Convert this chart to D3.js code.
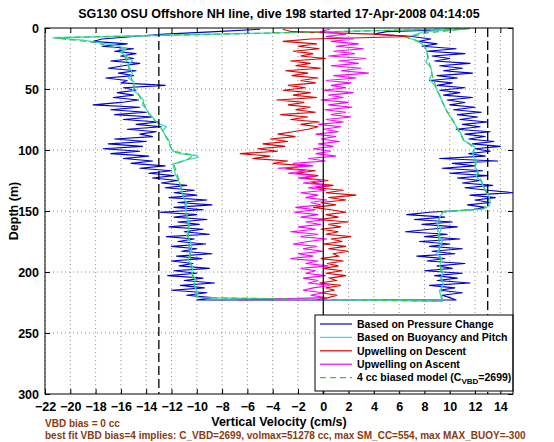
<!DOCTYPE html>
<html><head><meta charset="utf-8">
<script src="https://cdn.jsdelivr.net/npm/d3@7"></script>
<style>
body{margin:0;background:#fff}
text{font-family:"Liberation Sans",Arial,Helvetica,sans-serif;font-weight:bold}
</style>
</head><body>
<svg id="chart" width="554" height="442"></svg>
<script>
// ---------- data ----------
const titleText = "SG130 OSU Offshore NH line, dive 198 started 17-Apr-2008 04:14:05";
const xLabelText = "Vertical Velocity (cm/s)";
const yLabelText = "Depth (m)";
const noteLine1 = "VBD bias = 0 cc";
const noteLine2 = "best fit VBD bias=4 implies: C_VBD=2699, volmax=51278 cc, max SM_CC=554, max MAX_BUOY=-300";
const xTickValues = [-22,-20,-18,-16,-14,-12,-10,-8,-6,-4,-2,0,2,4,6,8,10,12,14];
const yTickValues = [0,50,100,150,200,250,300];
const biasLines = [-13, 13];
const legendLabels = ["Based on Pressure Change","Based on Buoyancy and Pitch","Upwelling on Descent","Upwelling on Ascent","4 cc biased model (C"];

// sampled depth grid (m) for the noisy series: 1,3,5,...,223
const sampleDepths = [1,3,5,7,9,11,13,15,17,19,21,23,25,27,29,31,33,35,37,39,41,43,45,47,49,51,53,55,57,59,
61,63,65,67,69,71,73,75,77,79,81,83,85,87,89,91,93,95,97,99,101,103,105,107,109,111,113,115,117,119,
121,123,125,127,129,131,133,135,137,139,141,143,145,147,149,151,153,155,157,159,161,163,165,167,169,171,173,175,177,179,
181,183,185,187,189,191,193,195,197,199,201,203,205,207,209,211,213,215,217,219,221,223];

// Based on pressure change, descent (cm/s)
const pressureDescent = [-5,-8.5,-12.5,-15,-17.5,-18.2,-15.5,-17.5,-15,-16.5,
-14.8,-16,-15,-16.8,-14.5,-15.8,-17,-14.8,-16.2,-15,
-17.2,-15.5,-16,-12.5,-15.8,-14.8,-16.3,-15,-16.6,-14.6,
-16,-18.2,-14.5,-16.8,-14,-16.5,-13.5,-15.8,-13,-14.8,
-12.8,-15.5,-13.2,-14.5,-13.5,-16.5,-14,-17,-14.3,-17.4,
-14.5,-16.8,-13.8,-15.8,-13.5,-15.2,-12.5,-14.5,-12,-13.8,
-11.8,-13.5,-11.5,-12.8,-10.8,-12.5,-10.2,-11.8,-10,-12.2,
-9.2,-11.5,-8.8,-11.8,-9.5,-12.9,-10,-11.8,-9.2,-11.5,
-9.8,-12.2,-9.5,-11,-9,-12.4,-10.2,-11.5,-9.3,-12,
-10,-11.2,-8.8,-11.6,-9.6,-12,-10.3,-11.4,-9,-11.8,
-10,-12.3,-9.5,-11,-8.6,-11.3,-9.4,-12,-9.2,-10.8,
-8.8,-10];
// Based on pressure change, ascent (cm/s), listed top to bottom
const pressureAscent = [11,5,4,7,8.5,7.5,9,7.8,10.5,8.2,
11.2,8.6,10,8.8,11.6,9.2,11,9.5,11.8,9,
10.6,8.4,10.2,9,11.2,9.2,10.8,9.5,11.8,9.8,
11.2,10,12,10.3,12.5,10.6,12.2,10.8,13,11,
12.4,10.5,13.2,11.2,12.8,11.5,13.5,11.8,14,12,
13.2,11.5,12.8,9.2,13.8,10.2,12,9.4,12.6,10,
13,10.6,12.4,11,13.4,11.2,13,15,11.6,13.6,
12,13.2,11.4,12.8,11.8,8.4,6.6,9.6,7.2,10.2,
7.8,10.6,8.4,6.5,9.8,8,10.8,7.6,10,8.4,
11,8.6,10.4,7.4,9.6,8.2,11.2,9,10.2,8,
11,8.8,10.6,9,11.6,8.4,10.4,9.2,11,9.4,
10,10.5];
// Upwelling on descent (cm/s)
const upwellingDescent = [-3.2,-2.5,4,7,-1,-3.2,-0.5,-2,-0.3,-2.4,
-0.8,-1.8,0.2,-2.6,-1,-2.2,-0.2,-3,-1.2,-2.5,
-0.4,-1.8,-0.6,-2.8,-1.4,-3.2,-1,-2.4,-0.5,-3.7,
-1.5,-2.8,-1,-2.2,-0.6,-3.4,-1.2,-2.6,-0.3,-1.8,
-0.4,-1.2,-2.4,-3.6,-2.2,-4.2,-2.8,-4.8,-3,-5.2,
-3.6,-6.6,-4.2,-5.6,-2.8,-4,-1.2,-3,-0.6,-2.2,
-0.4,-1.6,0.4,-1,0.8,-0.6,1.6,0.2,2.6,0.4,
1.8,-0.2,1,-0.8,0.6,1.8,0.2,1.2,-0.4,2,
0.4,1.4,-0.2,1.2,0.2,2.2,0.6,1.5,0,1.8,
0.4,2,0.8,1.2,-0.2,1.6,0.3,1.2,0,1.5,
0.2,1.8,0.5,1,-0.3,1.4,0.2,0.9,-0.2,1.1,
0.4,-0.5];
// Upwelling on ascent (cm/s)
const upwellingAscent = [0.5,-0.3,1.8,0.2,2.4,0.6,2.8,1,3.2,0.8,
2.5,0.4,3.4,1.2,2.8,0.6,3,1.4,3.6,0.8,
2.6,0.2,2.2,0.6,1.8,0,2.4,0.4,1.6,-0.2,
2,0.4,2.3,0.1,1.8,0.6,2.2,0.2,1.6,-0.4,
1.4,0,1.2,-0.6,1,-0.2,1.3,-0.4,0.8,-0.8,
0.6,-0.6,1,-1.2,0.2,-2.4,-0.8,-3.6,-1.4,-2.8,
-0.6,-2,-0.2,-1.6,0.4,-1.2,0.2,-1.8,-0.4,-1.4,
0.3,-1,-0.2,-2.2,-0.6,-2.3,-0.4,-1.8,0.2,-1.4,
-0.2,-2,-0.6,-2.6,-0.4,-1.8,0.3,-1.2,-2.4,-0.5,
-1.6,0,-2,-0.8,-2.6,-0.4,-1.4,0.4,-1.8,-0.6,
-1.4,0.2,-1.6,-0.4,-1.2,0.5,-0.8,-1.6,0,-1,
0.2,-6.8];

// Based on buoyancy and pitch
const buoyDescentDepth = [0.5,8,10,14.5,17,20,24,27,30,34,37.7,41,44,48.6,51,54,57,59.6,63,66,
70,73,76,78.7,81,84,88,92,97,101,103,104.5,106,108,111.5,115,119.7,124,128,133,
138.8,144,149.7,156,163.4,170,175,182,190,196,200,206,210,216,221];
const buoyDescentVel = [11.4,-21.4,-19,-16.3,-15.6,-16,-15.5,-15.1,-15.5,-15.2,-15.1,-15.4,-15.0,-14.9,-15.1,-14.6,-14.4,-14.2,-14.3,-14.0,
-13.8,-13.5,-13.3,-12.9,-12.4,-12.7,-12.5,-12.2,-12.1,-11.9,-11.4,-10.0,-9.9,-10.8,-11.9,-11.8,-11.7,-11.5,-11.3,-11.2,
-11.06,-10.8,-10.9,-10.7,-10.6,-10.8,-10.5,-10.4,-10.7,-10.3,-10.4,-10.1,-10.2,-10.0,-9.9];
const buoyAscentDepth = [0.5,3,7.6,10.4,13,15.8,20,24,28,32,37.7,42,47,51.4,55,58,62,65,69,72,
76,78.7,82,85,89,92,95,97.8,102,106,110,114,117,122,126,130,134,138,142,146,
148.5,150.5,155,160.6,165,170,175,180,185,190,195,200,205,210,216,224];
const buoyAscentVel = [11.4,8,6.6,7.4,7.8,8.06,8.2,8.3,8.1,8.5,8.6,8.4,8.8,9.0,9.2,9.3,9.5,9.6,9.8,10.0,
10.3,10.4,10.6,10.8,11.0,11.1,11.6,12.0,11.8,11.9,12.1,12.0,12.2,12.1,12.5,12.65,12.9,13.1,13.2,13.1,
12.6,9.5,9.2,9.0,9.3,9.1,9.4,9.2,9.0,9.4,9.2,9.5,9.3,9.5,9.2,9.4];

// 4 cc biased model
const modelDescentDepth = [0.5,8,12,18,28,40,50,60,70,79,86,94,101,104,107,112,125,140,160,180,200,221];
const modelDescentVel = [11.6,-21.2,-18,-15.9,-15.5,-15.2,-14.9,-14.3,-13.8,-13,-12.6,-12.2,-11.9,-10.3,-10.6,-11.8,-11.4,-11,-10.7,-10.6,-10.4,-10];
const modelAscentDepth = [0.5,4,7.6,10.4,16,25,38,51,65,79,92,98,106,118,128,140,148,151,160,180,200,224];
const modelAscentVel = [11.6,8.2,6.6,7.4,8.1,8.3,8.6,9,9.6,10.4,11.1,11.9,11.9,12.2,12.6,13.1,12.7,9.4,9,9.2,9.3,9.4];

// ---------- drawing ----------
const colors = {pressure:"#0000d8", buoy:"#30e0c8", up:"#e00000", asc:"#ff00ff", model:"#40c040", note:"#8b3a10"};
const svg = d3.select("#chart");
const L = 45, R = 513, T = 28, B = 394;
const x = d3.scaleLinear().domain([-22, 15]).range([L, R]);
const y = d3.scaleLinear().domain([0, 300]).range([T, B]);

svg.append("rect").attr("width",554).attr("height",442).attr("fill","#fff");

// grid
const grid = svg.append("g").attr("stroke","#777").attr("stroke-width",0.8).attr("stroke-dasharray","1,3");
grid.selectAll("line.gx").data(xTickValues).join("line")
  .attr("x1",d=>x(d)).attr("x2",d=>x(d)).attr("y1",T).attr("y2",B);
grid.selectAll("line.gy").data(yTickValues.slice(1,-1)).join("line")
  .attr("x1",L).attr("x2",R).attr("y1",d=>y(d)).attr("y2",d=>y(d));

svg.append("clipPath").attr("id","plotclip").append("rect")
  .attr("x",L).attr("y",T).attr("width",R-L).attr("height",B-T);
const plot = svg.append("g").attr("clip-path","url(#plotclip)");

const line = d3.line().x(d=>x(d[1])).y(d=>y(d[0]));
const zipD = (ds, vs) => ds.map((d,i)=>[d, vs[i]]);

const pressurePts = zipD(sampleDepths, pressureDescent).concat(zipD(sampleDepths, pressureAscent).reverse());
const buoyPts = zipD(buoyDescentDepth, buoyDescentVel).concat(zipD(buoyAscentDepth, buoyAscentVel).reverse());
const modelPts = zipD(modelDescentDepth, modelDescentVel).concat(zipD(modelAscentDepth, modelAscentVel).reverse());

plot.append("path").datum(pressurePts).attr("d",line).attr("fill","none")
  .attr("stroke",colors.pressure).attr("stroke-width",1.1).attr("stroke-linejoin","round");
plot.append("path").datum(buoyPts).attr("d",line).attr("fill","none")
  .attr("stroke",colors.buoy).attr("stroke-width",1.3);
plot.append("path").datum(zipD(sampleDepths, upwellingDescent)).attr("d",line).attr("fill","none")
  .attr("stroke",colors.up).attr("stroke-width",1.1);
plot.append("path").datum(zipD(sampleDepths, upwellingAscent)).attr("d",line).attr("fill","none")
  .attr("stroke",colors.asc).attr("stroke-width",1.1);
plot.append("path").datum(modelPts).attr("d",line).attr("fill","none")
  .attr("stroke",colors.model).attr("stroke-width",1.2).attr("stroke-dasharray","6,4");

// zero line & bias lines
plot.append("line").attr("x1",x(0)).attr("x2",x(0)).attr("y1",T).attr("y2",B)
  .attr("stroke","#000").attr("stroke-width",1.2);
plot.selectAll("line.bias").data(biasLines).join("line")
  .attr("x1",d=>x(d)).attr("x2",d=>x(d)).attr("y1",T).attr("y2",B)
  .attr("stroke","#000").attr("stroke-width",1.3).attr("stroke-dasharray","9,4");

// axes (ticks inward, on all four sides)
const tickLen = 5;
svg.append("g").attr("transform",`translate(0,${B})`)
  .call(d3.axisBottom(x).tickValues(xTickValues).tickSizeInner(-tickLen).tickSizeOuter(0).tickPadding(8))
  .call(g=>g.select(".domain").remove());
svg.append("g").attr("transform",`translate(0,${T})`)
  .call(d3.axisTop(x).tickValues(xTickValues).tickSizeInner(-tickLen).tickSizeOuter(0).tickFormat(""))
  .call(g=>g.select(".domain").remove());
svg.append("g").attr("transform",`translate(${L},0)`)
  .call(d3.axisLeft(y).tickValues(yTickValues).tickSizeInner(-tickLen).tickSizeOuter(0).tickPadding(6))
  .call(g=>g.select(".domain").remove());
svg.append("g").attr("transform",`translate(${R},0)`)
  .call(d3.axisRight(y).tickValues(yTickValues).tickSizeInner(-tickLen).tickSizeOuter(0).tickFormat(""))
  .call(g=>g.select(".domain").remove());
svg.selectAll(".tick line").attr("stroke","#000");
svg.selectAll(".tick text").attr("fill","#000").attr("font-size","12.5px")
  .attr("font-family",'"Liberation Sans",Arial,sans-serif').attr("font-weight","bold");

// legend
const lg = svg.append("g");
lg.append("rect").attr("x",315).attr("y",315).attr("width",R-315).attr("height",76)
  .attr("fill","#fff").attr("stroke","#000").attr("stroke-width",1);
const legendStyles = [
  {c:colors.pressure, dash:null},
  {c:colors.buoy, dash:null},
  {c:colors.up, dash:null},
  {c:colors.asc, dash:null},
  {c:colors.model, dash:"6,4"}];
legendLabels.forEach((lab,i)=>{
  const yy = 324 + i*13.4;
  lg.append("line").attr("x1",320).attr("x2",352).attr("y1",yy).attr("y2",yy)
    .attr("stroke",legendStyles[i].c).attr("stroke-width",1.2)
    .attr("stroke-dasharray",legendStyles[i].dash);
  const t = lg.append("text").attr("x",357).attr("y",yy+3.8).attr("font-size","10.5px").attr("fill","#000").text(lab);
  if (i===4){
    t.append("tspan").attr("font-size","8px").attr("dy",3).text("VBD");
    t.append("tspan").attr("dy",-3).text("=2699)");
  }
});

// box
svg.append("rect").attr("x",L).attr("y",T).attr("width",R-L).attr("height",B-T)
  .attr("fill","none").attr("stroke","#000").attr("stroke-width",1);

// texts
svg.append("text").attr("x",279).attr("y",18).attr("text-anchor","middle")
  .attr("font-size","12.5px").attr("fill","#000").text(titleText);
svg.append("text").attr("x",279).attr("y",425.5).attr("text-anchor","middle")
  .attr("font-size","12.5px").attr("fill","#000").text(xLabelText);
svg.append("text").attr("transform","translate(18,211) rotate(-90)").attr("text-anchor","middle")
  .attr("font-size","12.5px").attr("fill","#000").text(yLabelText);
svg.append("text").attr("x",45).attr("y",427).attr("font-size","10px").attr("fill",colors.note).text(noteLine1);
svg.append("text").attr("x",45).attr("y",438.5).attr("font-size","10px").attr("fill",colors.note).text(noteLine2);
</script>
</body></html>
